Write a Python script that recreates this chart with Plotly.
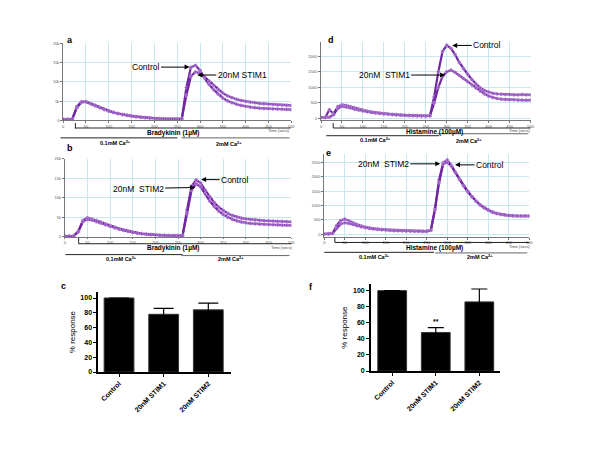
import plotly.graph_objects as go

W, H = 600, 450
FONT = "Liberation Sans, Arial, sans-serif"

# ---------------- data ----------------
time_s = list(range(0, 510, 10))

a_control = [300, 300, 400, 3600, 4900, 4800, 4300, 3800, 3300, 2800, 2400,
             2050, 1750, 1500, 1300, 1100, 950, 820, 700, 600, 520,
             460, 420, 380, 350, 340, 400, 8500, 13800, 14300, 13000,
             11000, 9300, 8000, 6800, 5800, 5100, 4600, 4200, 3900, 3650,
             3450, 3300, 3200, 3100, 3050, 3000, 2950, 2900, 2850, 2800]
a_stim1 = [300, 300, 350, 3300, 4700, 4900, 4400, 3900, 3400, 2900, 2450,
           2100, 1800, 1550, 1350, 1150, 980, 850, 730, 620, 540,
           480, 430, 390, 360, 350, 400, 6500, 11500, 12600, 12300,
           11300, 10200, 9100, 8000, 7100, 6400, 5900, 5500, 5200, 4950,
           4750, 4600, 4450, 4350, 4250, 4150, 4050, 4000, 3950, 3900]

b_control = [200, 200, 250, 1500, 4200, 4900, 4600, 4200, 3800, 3300, 2900,
             2500, 2100, 1800, 1500, 1200, 1000, 820, 680, 570, 480,
             420, 380, 340, 310, 300, 320, 7000, 13000, 14600, 13800,
             12000, 10300, 8800, 7600, 6700, 6000, 5500, 5100, 4800, 4600,
             4450, 4350, 4250, 4150, 4100, 4050, 4000, 3950, 3900, 3850]
b_stim2 = [200, 200, 250, 1300, 3900, 4500, 4300, 3900, 3500, 3100, 2700,
           2300, 1950, 1650, 1400, 1150, 950, 790, 650, 550, 470,
           410, 370, 330, 300, 290, 310, 6000, 12000, 13600, 12800,
           11000, 9200, 7800, 6600, 5700, 5000, 4500, 4100, 3800, 3600,
           3450, 3350, 3250, 3200, 3150, 3100, 3050, 3000, 3000, 2950]

d_control = [30, 30, 280, 150, 380, 440, 420, 380, 340, 300, 270,
             240, 215, 195, 175, 160, 145, 135, 125, 115, 105,
             100, 95, 90, 85, 80, 90, 700, 1500, 2150, 2350,
             2250, 2050, 1800, 1600, 1420, 1250, 1100, 980, 900, 850,
             810, 790, 780, 770, 770, 760, 760, 770, 760, 760]
d_stim1 = [30, 30, 40, 120, 320, 390, 370, 340, 300, 270, 240,
           215, 195, 175, 160, 145, 135, 125, 115, 105, 100,
           95, 90, 85, 80, 75, 85, 500, 1000, 1350, 1500,
           1550, 1480, 1380, 1280, 1180, 1080, 980, 880, 790, 720,
           670, 640, 620, 610, 600, 600, 590, 590, 590, 590]

e_control = [10, 10, 30, 300, 480, 530, 470, 400, 340, 290, 250,
             220, 200, 185, 170, 160, 150, 140, 135, 130, 125,
             120, 115, 115, 110, 110, 150, 900, 1900, 2500, 2590,
             2400, 2150, 1900, 1680, 1480, 1300, 1150, 1020, 920, 840,
             770, 720, 690, 670, 650, 640, 635, 630, 630, 630]
e_stim2 = [10, 10, 30, 200, 360, 400, 380, 340, 300, 260, 230,
           205, 185, 170, 160, 150, 140, 130, 125, 120, 115,
           110, 105, 105, 100, 100, 140, 850, 1800, 2450, 2500,
           2380, 2150, 1920, 1700, 1500, 1320, 1160, 1030, 930, 850,
           780, 730, 700, 680, 660, 650, 645, 640, 640, 640]

bar_categories = ["Control", "20nM STIM1", "20nM STIM2"]
c_values = [100, 78, 84]
c_errors = [0, 8, 9]
f_values = [100, 48, 86]
f_errors = [0, 6, 16]

# ---------------- helpers ----------------
def px(x):
    return x / W

def py(y):
    return 1 - y / H

LINE_C = "#7128a0"
MARK_C = "#9550c4"

fig = go.Figure()

def add_trace_pair(ys, xa, ya):
    for y in ys:
        fig.add_trace(go.Scatter(
            x=time_s, y=y, mode="lines+markers", xaxis=xa, yaxis=ya,
            line=dict(color=LINE_C, width=2.2),
            marker=dict(symbol="circle", size=3.2, color=MARK_C,
                        line=dict(width=0.6, color="#c9a6e0")),
            showlegend=False, hoverinfo="skip"))

add_trace_pair([a_control, a_stim1], "x", "y")
add_trace_pair([b_control, b_stim2], "x2", "y2")
add_trace_pair([d_control, d_stim1], "x3", "y3")
add_trace_pair([e_control, e_stim2], "x4", "y4")

def add_bars(vals, errs, xa, ya, width, capw):
    fig.add_trace(go.Bar(
        x=bar_categories, y=vals, xaxis=xa, yaxis=ya, width=width,
        marker=dict(color="black", line=dict(color="#333", width=1)),
        error_y=dict(type="data", array=errs, visible=True, color="black",
                     thickness=1.2, width=capw),
        showlegend=False, hoverinfo="skip"))

add_bars(c_values, c_errors, "x5", "y5", 0.667, 10)
add_bars(f_values, f_errors, "x6", "y6", 0.66, 8)

# ---------------- axes ----------------
GRID = "#c6e8ee"

def ts_x(domain, anchor):
    return dict(domain=domain, anchor=anchor, range=[0, 500], tick0=0, dtick=50,
                showgrid=True, gridcolor=GRID, gridwidth=1, zeroline=False,
                showline=True, linecolor="#777", linewidth=1,
                ticks="outside", ticklen=1.5, tickcolor="#777",
                tickfont=dict(size=4, color="#555", family=FONT))

def ts_y(domain, anchor, rng, dtick):
    return dict(domain=domain, anchor=anchor, range=rng, tick0=0, dtick=dtick,
                showgrid=True, gridcolor=GRID, gridwidth=1, zeroline=False,
                showline=True, linecolor="#777", linewidth=1,
                ticks="outside", ticklen=2, tickcolor="#777",
                tickfont=dict(size=4, color="#555", family=FONT))

def bar_x(domain, anchor, rng):
    return dict(domain=domain, anchor=anchor, range=rng, type="category",
                showline=True, linecolor="black", linewidth=1.5,
                ticks="outside", ticklen=3, tickcolor="black", tickangle=-45,
                tickfont=dict(size=7, color="black", family=FONT, weight="bold"),
                showgrid=False, zeroline=False)

def bar_y(domain, anchor):
    return dict(domain=domain, anchor=anchor, range=[0, 108], tick0=0, dtick=20,
                showline=True, linecolor="black", linewidth=1.5,
                ticks="outside", ticklen=3, tickcolor="black",
                tickfont=dict(size=7, color="black", family=FONT, weight="bold"),
                showgrid=False, zeroline=False,
                title=dict(text="% response", font=dict(size=8, family=FONT, color="black"),
                           standoff=4))

fig.update_layout(
    width=W, height=H, margin=dict(l=0, r=0, t=0, b=0),
    paper_bgcolor="white", plot_bgcolor="white",
    font=dict(family=FONT, color="black"),
    xaxis=ts_x([px(62.7), px(292.7)], "y"),
    yaxis=ts_y([py(119), py(41)], "x", [0, 20000], 5000),
    xaxis2=ts_x([px(64.3), px(292.7)], "y2"),
    yaxis2=ts_y([py(237), py(158)], "x2", [0, 20000], 5000),
    xaxis3=ts_x([px(322.7), px(534)], "y3"),
    yaxis3=ts_y([py(119), py(40)], "x3", [-63, 2440], 500),
    xaxis4=ts_x([px(326), px(532.7)], "y4"),
    yaxis4=ts_y([py(237.3), py(153.3)], "x4", [-100, 2790], 500),
    xaxis5=bar_x([px(98), px(232)], "y5", [-0.467, 2.51]),
    yaxis5=bar_y([py(374), py(293)], "x5"),
    xaxis6=bar_x([px(373), px(503)], "y6", [-0.489, 2.47]),
    yaxis6=bar_y([py(373), py(285)], "x6"),
    bargap=0.3,
)

# ---------------- shapes ----------------
shapes = []
def seg(x0, y0, x1, y1, color="#222", w=1):
    shapes.append(dict(type="line", xref="paper", yref="paper",
                       x0=px(x0), y0=py(y0), x1=px(x1), y1=py(y1),
                       line=dict(color=color, width=w)))

# panel a brackets
seg(75, 121.7, 75, 127.3); seg(75, 126.7, 292, 126.7)
seg(60, 136.7, 178, 136.7); seg(182, 136.7, 291, 136.7, "#666")
# panel b
seg(78.3, 238, 78.3, 244); seg(78.3, 244, 293, 244)
seg(65, 255, 183, 255); seg(182, 256, 291, 256, "#666")
# panel d
seg(335, 121.7, 335, 126.7); seg(335, 126.7, 534, 126.7)
seg(328, 134.5, 441.7, 134.5); seg(440, 132.5, 531.7, 132.5, "#666")
# panel e
seg(336.7, 238, 336.7, 242.7); seg(336.7, 242.7, 532.7, 242.7)
seg(326, 252.7, 436.7, 252.7); seg(438, 253.3, 530.7, 253.3, "#666")
fig.update_layout(shapes=shapes)

# ---------------- annotations ----------------
ann = []
def ptxt(x, y, text, size=6, bold=True, color="black"):
    t = f"<b>{text}</b>" if bold else text
    ann.append(dict(xref="paper", yref="paper", x=px(x), y=py(y), text=t,
                    showarrow=False, xanchor="center", yanchor="middle",
                    font=dict(size=size, family=FONT, color=color)))

ptxt(174, 131.5, "Bradykinin (1µM)", 6.5)
ptxt(280, 129.5, "Time (secs)", 4, False, "#444")
ptxt(115, 142, "0.1mM Ca<sup>2+</sup>", 5.5)
ptxt(230, 142.7, "2mM Ca<sup>2+</sup>", 5.5)

ptxt(174, 248.7, "Bradykinin (1µM)", 6.5)
ptxt(283, 248, "Time (secs)", 4, False, "#444")
ptxt(121.7, 259.5, "0.1mM Ca<sup>2+</sup>", 5.5)
ptxt(231.7, 259.5, "2mM Ca<sup>2+</sup>", 5.5)

ptxt(436.7, 131, "Histamine (100µM)", 6.5)
ptxt(523, 129, "Time (secs)", 4, False, "#444")
ptxt(378, 139.2, "0.1mM Ca<sup>2+</sup>", 5.5)
ptxt(471.7, 139.5, "2mM Ca<sup>2+</sup>", 5.5)

ptxt(436.7, 248.3, "Histamine (100µM)", 6.5)
ptxt(523, 247, "Time (secs)", 4, False, "#444")
ptxt(376.7, 257.3, "0.1mM Ca<sup>2+</sup>", 5.5)
ptxt(483, 257.3, "2mM Ca<sup>2+</sup>", 5.5)

for lbl, x, y in [("a", 70, 37), ("b", 70, 147), ("c", 63, 287),
                  ("d", 333, 37), ("e", 330, 152), ("f", 313, 288)]:
    ptxt(x, y, lbl, 9)

def arrow(xr, yr, x, y, text, ax, ay=0):
    ann.append(dict(xref=xr, yref=yr, x=x, y=y, text=text, showarrow=True,
                    ax=ax, ay=ay, arrowhead=2, arrowsize=1, arrowwidth=1,
                    arrowcolor="black", font=dict(size=8.5, family=FONT, color="black")))

arrow("x", "y", 277, 13850, "Control", -44)
arrow("x", "y", 294, 11800, "20nM\u00a0STIM1", 45)
arrow("x2", "y2", 288, 12660, "20nM\u00a0\u00a0STIM2", -57, 1)
arrow("x2", "y2", 301, 14680, "Control", 34)
arrow("x3", "y3", 313, 2345, "Control", 35)
arrow("x3", "y3", 296, 1394, "20nM\u00a0\u00a0STIM1", -61)
arrow("x4", "y4", 283, 2456, "20nM\u00a0\u00a0STIM2", -57)
arrow("x4", "y4", 319, 2420, "Control", 35)

ann.append(dict(xref="x6", yref="y6", x="20nM STIM1", y=62, text="<b>**</b>",
                showarrow=False, font=dict(size=7, family=FONT, color="black")))

fig.update_layout(annotations=ann)

fig.write_html("out.html", config={"displayModeBar": False},
               post_script="document.body.style.margin='0';")
